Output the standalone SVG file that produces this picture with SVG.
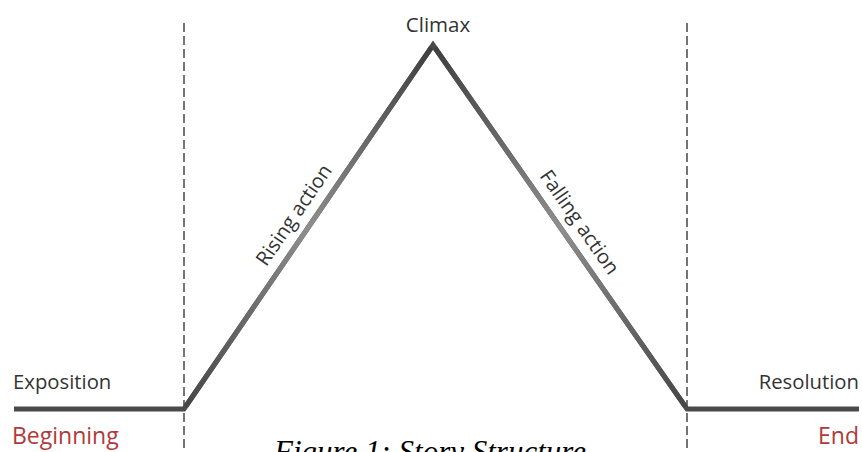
<svg xmlns="http://www.w3.org/2000/svg" width="862" height="452" viewBox="0 0 862 452">
  <style>
    .lbl { font-family: "Open Sans", "Liberation Sans", sans-serif; fill: #333333; }
    .red { font-family: "Open Sans", "Liberation Sans", sans-serif; fill: #b03a3a; }
    .dash { stroke: #3a3a3a; stroke-width: 1.4; stroke-dasharray: 9 4; fill: none; }
    .base { stroke: #4a4a4a; stroke-width: 5; fill: none; }
  </style>
  <defs>
    <linearGradient id="gRise" gradientUnits="userSpaceOnUse" x1="184" y1="409" x2="433" y2="45">
      <stop offset="0" stop-color="#454545"/>
      <stop offset="0.5" stop-color="#8e8e8e"/>
      <stop offset="1" stop-color="#3e3e3e"/>
    </linearGradient>
    <linearGradient id="gFall" gradientUnits="userSpaceOnUse" x1="433" y1="45" x2="687" y2="409">
      <stop offset="0" stop-color="#3e3e3e"/>
      <stop offset="0.5" stop-color="#8e8e8e"/>
      <stop offset="1" stop-color="#454545"/>
    </linearGradient>
  </defs>
  <rect width="862" height="452" fill="#ffffff"/>

  <g id="connectors">
    <line class="dash" x1="184" y1="23" x2="184" y2="452"/>
    <line class="dash" x1="687" y1="23" x2="687" y2="452"/>
    <polyline class="base" points="14,409 184,409 433,45 687,409 859,409" stroke-linejoin="miter" stroke-miterlimit="10"/>
    <line x1="186" y1="406" x2="431" y2="48" stroke="url(#gRise)" stroke-width="5"/>
    <line x1="435" y1="48" x2="685" y2="406" stroke="url(#gFall)" stroke-width="5"/>
  </g>

  <g id="exposition">
    <text class="lbl" x="13" y="389" font-size="20.3">Exposition</text>
    <text class="red" x="12" y="444" font-size="23">Beginning</text>
  </g>
  <g id="rising">
    <text class="lbl" font-size="20" text-anchor="middle" transform="translate(299.5,218.8) rotate(-55.6)">Rising action</text>
  </g>
  <g id="climax">
    <text class="lbl" x="438" y="32" font-size="20.5" text-anchor="middle">Climax</text>
  </g>
  <g id="falling">
    <text class="lbl" font-size="20" text-anchor="middle" transform="translate(574,226) rotate(55.1)">Falling action</text>
  </g>
  <g id="resolution">
    <text class="lbl" x="859" y="389" font-size="20.3" text-anchor="end">Resolution</text>
    <text class="red" x="859" y="444" font-size="23" text-anchor="end">End</text>
  </g>
  <g id="caption">
    <text x="430" y="462" font-family="'Liberation Serif', serif" font-style="italic" font-size="31" fill="#000" text-anchor="middle">Figure 1: Story Structure</text>
  </g>
</svg>
